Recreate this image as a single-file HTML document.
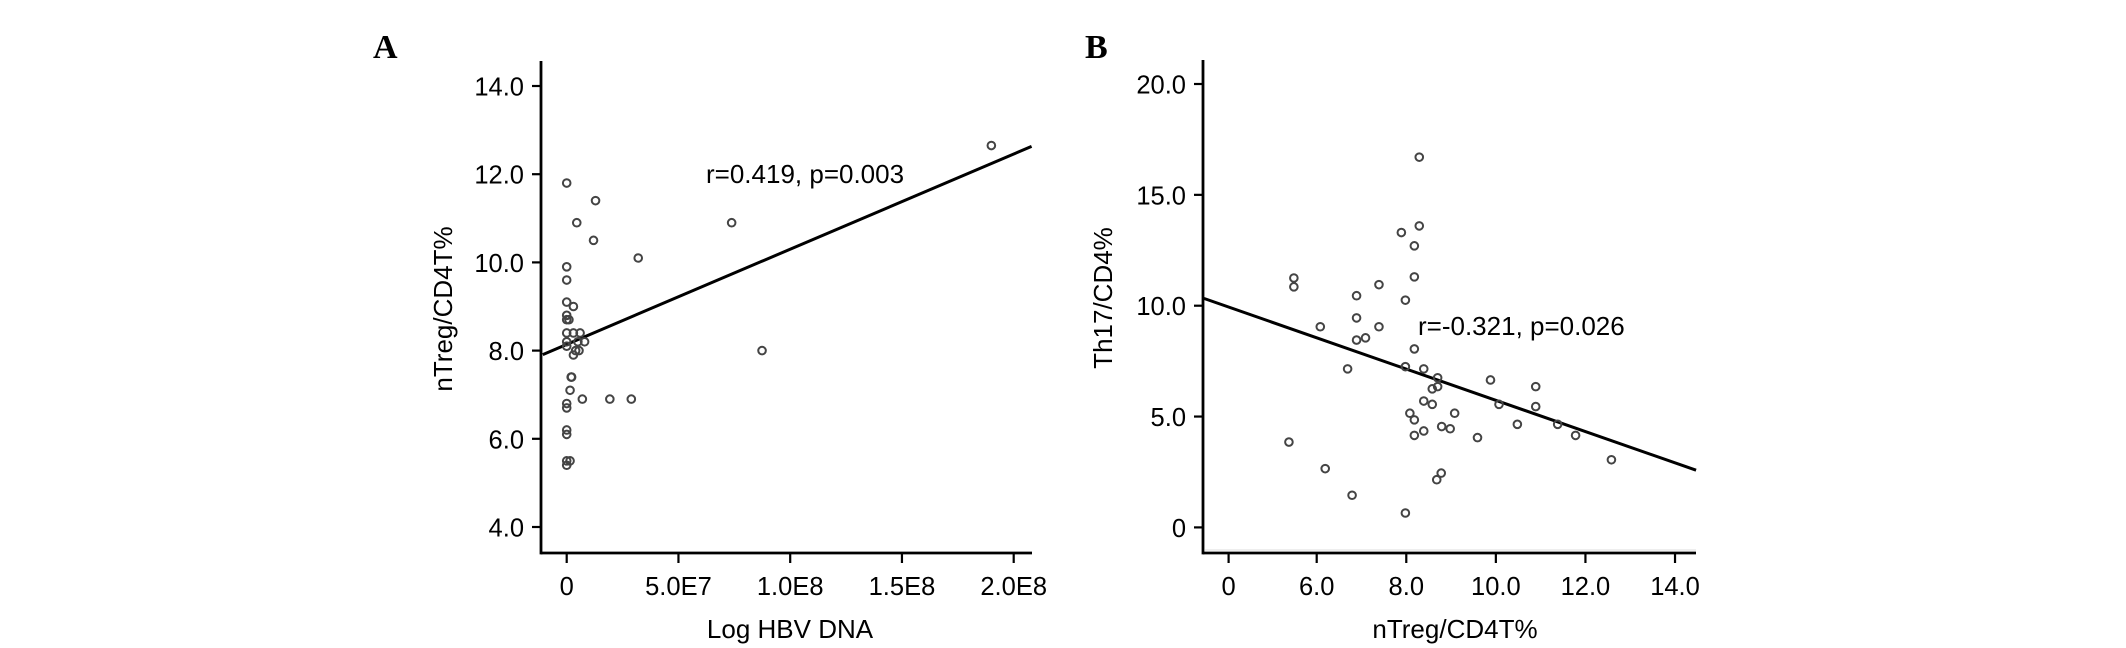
<!DOCTYPE html>
<html><head><meta charset="utf-8"><style>
html,body{margin:0;padding:0;background:#fff;}
svg{display:block;font-family:"Liberation Sans",Arial,sans-serif;}
</style></head><body>
<svg id="fig" width="2126" height="648" viewBox="0 0 2126 648">
<text x="373" y="58" font-family="Liberation Serif,serif" font-weight="bold" font-size="34">A</text>
<text x="1085" y="58" font-family="Liberation Serif,serif" font-weight="bold" font-size="34">B</text>
<g id="pa"></g>
<g id="pb"></g>
</svg>
<script>
// Panel A data (x in units of 1E7)
const aX = [0,1.29,0.45,1.2,3.2,7.38,8.74,19.0,0,0,0,0.3,0,0,0.1,0,0,0,0.3,0.6,0.8,0.5,0.4,0.55,0.3,0.2,0.22,0.15,0.7,1.93,2.89,0,0,0,0,0,0.15,0];
const aY = [11.8,11.4,10.9,10.5,10.1,10.9,8.0,12.65,9.9,9.6,9.1,9.0,8.8,8.7,8.7,8.4,8.2,8.1,8.4,8.4,8.2,8.2,8.0,8.0,7.9,7.4,7.4,7.1,6.9,6.9,6.9,6.8,6.7,6.2,6.1,5.5,5.5,5.4];
const aYTicks = [4,6,8,10,12,14];
const aYTickLabels = ["4.0","6.0","8.0","10.0","12.0","14.0"];
const aXTicks = [0,5,10,15,20];
const aXTickLabels = ["0","5.0E7","1.0E8","1.5E8","2.0E8"];
const aFit = [[-1.07,7.91],[20.8,12.63]];
// Panel B data
const bX = [8.29,8.29,7.89,8.18,8.18,5.49,5.49,7.39,6.89,7.98,6.89,6.08,7.39,6.89,7.09,8.18,6.69,7.98,8.39,8.70,8.58,8.70,9.88,10.89,8.39,8.58,10.07,10.89,8.08,9.08,8.18,10.48,11.38,8.79,8.98,8.39,8.18,9.59,11.78,5.38,12.58,6.19,8.78,8.68,6.79,7.98];
const bY = [16.7,13.6,13.3,12.7,11.3,11.25,10.85,10.95,10.45,10.25,9.45,9.05,9.05,8.45,8.55,8.05,7.15,7.25,7.15,6.75,6.25,6.35,6.65,6.35,5.7,5.55,5.55,5.45,5.15,5.15,4.85,4.65,4.65,4.55,4.45,4.35,4.15,4.05,4.15,3.85,3.05,2.65,2.45,2.15,1.45,0.65];
const bYTicks = [0,5,10,15,20];
const bYTickLabels = ["0","5.0","10.0","15.0","20.0"];
const bXTicks = [6,8,10,12,14];
const bXTickLabels = ["6.0","8.0","10.0","12.0","14.0"];
const bFit = [[3.48,10.33],[14.47,2.58]];

const NS="http://www.w3.org/2000/svg";
function mk(parent,tag,attrs){const e=document.createElementNS(NS,tag);for(const k in attrs)e.setAttribute(k,attrs[k]);parent.appendChild(e);return e;}

function drawPanel(g,o){
  const sx=o.sx, sy=o.sy;
  let ya=mk(g,'line',{x1:o.L,y1:o.T,x2:o.L,y2:o.B+1.4,stroke:'#000','stroke-width':2.8});
  
  
  let xa=mk(g,'line',{x1:o.L,y1:o.B,x2:o.R,y2:o.B,stroke:'#000','stroke-width':2.8});
  
  
  o.yt.forEach((v,i)=>{
    const y=sy(v);
    const tk=mk(g,'line',{x1:o.L-9,y1:y,x2:o.L,y2:y,stroke:'#000','stroke-width':2.2});
    
    
    const t=mk(g,'text',{x:o.L-17,y:y+9.5,'text-anchor':'end','font-size':25.5});
    t.textContent=o.ytl[i];
    
    
  });
  o.xt.forEach((v,i)=>{
    const x=sx(v);
    const tk=mk(g,'line',{x1:x,y1:o.B,x2:x,y2:o.B+10,stroke:'#000','stroke-width':2.2});
    
    
    const t=mk(g,'text',{x:x,y:595,'text-anchor':'middle','font-size':25.5});
    t.textContent=o.xtl[i];
    
    
  });
  const fl=mk(g,'line',{x1:sx(o.fit[0][0]),y1:sy(o.fit[0][1]),x2:sx(o.fit[1][0]),y2:sy(o.fit[1][1]),stroke:'#000','stroke-width':3});
  
  
  o.xs.forEach((xv,i)=>{
    const c=mk(g,'circle',{cx:sx(xv),cy:sy(o.ys[i]),r:3.8,fill:'none',stroke:'#444','stroke-width':2});
    
    
  });
  const st=mk(g,'text',{x:o.stx,y:o.sty,'font-size':26});
  st.textContent=o.stat;
  
  
  const xt=mk(g,'text',{x:o.xtx,y:638,'text-anchor':'middle','font-size':26});
  xt.textContent=o.xtitle;
  
  
  const yt=mk(g,'text',{x:0,y:0,'text-anchor':'middle','font-size':26,transform:`translate(${o.ytx},${o.yty}) rotate(-90)`});
  yt.textContent=o.ytitle;
  
  
}

drawPanel(document.getElementById('pa'),{
  L:541,R:1032,T:61,B:553,
  sx:v=>566.7+v*(1013.7-566.7)/20, sy:v=>527-(v-4)*44.1,
  xs:aX,ys:aY,yt:aYTicks,ytl:aYTickLabels,xt:aXTicks,xtl:aXTickLabels,fit:aFit,
  stat:"r=0.419, p=0.003",stx:706,sty:183,
  xtitle:"Log HBV DNA",xtx:790,ytitle:"nTreg/CD4T%",ytx:452,yty:309
});
const gb=document.getElementById('pb');
drawPanel(gb,{
  L:1203,R:1696,T:60,B:553,
  sx:v=>1316.7+(v-6)*44.79, sy:v=>527.4-v*22.17,
  xs:bX,ys:bY,yt:bYTicks,ytl:bYTickLabels,xt:bXTicks,xtl:bXTickLabels,fit:bFit,
  stat:"r=-0.321, p=0.026",stx:1418,sty:335,
  xtitle:"nTreg/CD4T%",xtx:1455,ytitle:"Th17/CD4%",ytx:1112,yty:298
});
const z=mk(gb,'line',{x1:1228.6,y1:553,x2:1228.6,y2:563,stroke:'#000','stroke-width':2.2});


const zt=mk(gb,'text',{x:1228.6,y:595,'text-anchor':'middle','font-size':25.5});
zt.textContent="0";


const gl=mk(gb,'line',{x1:1205,y1:550,x2:1696,y2:550,stroke:'#ddd','stroke-width':1});


</script>
</body></html>
